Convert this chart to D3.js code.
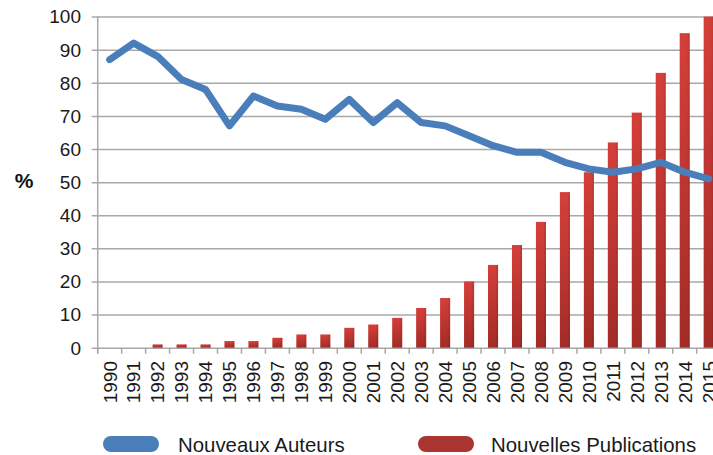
<!DOCTYPE html>
<html>
<head>
<meta charset="utf-8">
<script src="https://cdn.jsdelivr.net/npm/d3@7"></script>
<style>
  html, body { margin: 0; padding: 0; background: #fff; }
  svg { display: block; font-family: "Liberation Sans", Arial, Helvetica, sans-serif; }
</style>
</head>
<body>
<svg id="chart" width="713" height="455"></svg>
<script>
const years = ["1990","1991","1992","1993","1994","1995","1996","1997","1998","1999","2000","2001","2002","2003","2004","2005","2006","2007","2008","2009","2010","2011","2012","2013","2014","2015"];
const nouveauxAuteurs = [87, 92, 88, 81, 78, 67, 76, 73, 72, 69, 75, 68, 74, 68, 67, 64, 61, 59, 59, 56, 54, 53, 54, 56, 53, 51];
const nouvellesPublications = [0, 0, 1, 1, 1, 2, 2, 3, 4, 4, 6, 7, 9, 12, 15, 20, 25, 31, 38, 47, 53, 62, 71, 83, 95, 100];
const yTicks = [0, 10, 20, 30, 40, 50, 60, 70, 80, 90, 100];
const seriesNames = ["Nouveaux Auteurs", "Nouvelles Publications"];
const yAxisLabel = "%";

const svg = d3.select("#chart");
const x0 = 97.7, step = 23.96;
const x = d3.scaleBand().domain(years).range([x0, x0 + step * years.length]).padding(0);
const y = d3.scaleLinear().domain([0, 100]).range([347.7, 16.6]);

const defs = svg.append("defs");
const grad = defs.append("linearGradient").attr("id", "barGrad")
  .attr("x1", 0).attr("y1", 0).attr("x2", 0).attr("y2", 1);
grad.append("stop").attr("offset", "0%").attr("stop-color", "#d53f3a");
grad.append("stop").attr("offset", "100%").attr("stop-color", "#a32b27");
const hgrad = defs.append("linearGradient").attr("id", "barShade")
  .attr("x1", 0).attr("y1", 0).attr("x2", 1).attr("y2", 0);
hgrad.append("stop").attr("offset", "0%").attr("stop-color", "#000").attr("stop-opacity", 0);
hgrad.append("stop").attr("offset", "70%").attr("stop-color", "#000").attr("stop-opacity", 0);
hgrad.append("stop").attr("offset", "100%").attr("stop-color", "#000").attr("stop-opacity", 0.12);

// gridlines with left ticks
const yAxis = d3.axisLeft(y).tickValues(yTicks).tickSize(-(713 - x0)).tickSizeOuter(0).tickFormat("").tickPadding(0);
const gy = svg.append("g").attr("transform", `translate(${x0},0)`).call(yAxis);
gy.select(".domain").remove();
gy.selectAll(".tick line").attr("stroke", "#a8a8a8").attr("stroke-width", 1.5).attr("x1", -6);

// y tick labels
svg.append("g").selectAll("text").data(yTicks).join("text")
  .attr("x", 81).attr("y", d => y(d)).attr("dy", "0.36em")
  .attr("text-anchor", "end").attr("font-size", 19).attr("fill", "#1a1a1a")
  .text(d => d);

// y axis line
svg.append("line").attr("x1", x0).attr("x2", x0).attr("y1", y(100)).attr("y2", y(0) + 6)
  .attr("stroke", "#a8a8a8").attr("stroke-width", 1.5);

// x tick marks
const xAxis = d3.axisBottom(x).tickSize(6).tickSizeOuter(0).tickFormat("");
const gx = svg.append("g").attr("transform", `translate(0,${y(0)})`).call(xAxis);
gx.select(".domain").remove();
gx.selectAll(".tick line").attr("stroke", "#a8a8a8").attr("stroke-width", 1.5)
  .attr("transform", `translate(${-x.bandwidth() / 2},0)`);

// bars
const bw = x.bandwidth() * 0.42;
const bars = svg.append("g");
bars.selectAll("rect.bar").data(years).join("rect").attr("class", "bar")
  .attr("x", d => x(d) + x.bandwidth() / 2 - bw / 2)
  .attr("y", (d, i) => y(nouvellesPublications[i]))
  .attr("width", bw)
  .attr("height", (d, i) => y(0) - y(nouvellesPublications[i]))
  .attr("fill", "url(#barGrad)");
bars.selectAll("rect.shade").data(years).join("rect").attr("class", "shade")
  .attr("x", d => x(d) + x.bandwidth() / 2 - bw / 2)
  .attr("y", (d, i) => y(nouvellesPublications[i]))
  .attr("width", bw)
  .attr("height", (d, i) => y(0) - y(nouvellesPublications[i]))
  .attr("fill", "url(#barShade)");

// line
const line = d3.line().x((d, i) => x(years[i]) + x.bandwidth() / 2).y(d => y(d));
svg.append("path").datum(nouveauxAuteurs).attr("d", line)
  .attr("fill", "none").attr("stroke", "#4a7ebb").attr("stroke-width", 7)
  .attr("stroke-linejoin", "round").attr("stroke-linecap", "round");

// x labels
svg.append("g").selectAll("text").data(years).join("text")
  .attr("transform", d => `translate(${x(d) + x.bandwidth() / 2},361) rotate(-90)`)
  .attr("dy", "0.36em").attr("text-anchor", "end")
  .attr("font-size", 19).attr("fill", "#1a1a1a")
  .text(d => d);

// y axis label
svg.append("text").attr("x", 24).attr("y", 188).attr("text-anchor", "middle")
  .attr("font-size", 21).attr("font-weight", "bold").attr("fill", "#111").text(yAxisLabel);

// legend
const legend = [
  { name: seriesNames[0], color: "#4a7ebb", px: 103, tx: 178 },
  { name: seriesNames[1], color: "#a93430", px: 418, tx: 491 }
];
const lg = svg.append("g");
legend.forEach(l => {
  lg.append("rect").attr("x", l.px).attr("y", 436).attr("width", 56).attr("height", 16)
    .attr("rx", 8).attr("fill", l.color);
  lg.append("text").attr("x", l.tx).attr("y", 451.5).attr("font-size", 20.4)
    .attr("fill", "#1a1a1a").text(l.name);
});
</script>
</body>
</html>
